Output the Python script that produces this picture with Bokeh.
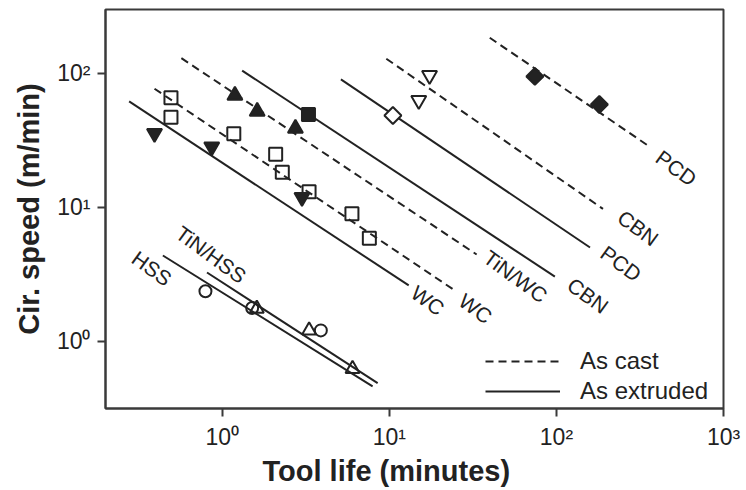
from bokeh.plotting import figure
from bokeh.models import ColumnDataSource, FixedTicker, Legend, LegendItem, Range1d, Title
from bokeh.embed import file_html
from bokeh.resources import INLINE
from bokeh.core.properties import value

# ---------------- data (tool life in minutes, cir. speed in m/min) ----------------
# fitted Taylor lines: start / end points
curve_names = ["WC", "WC", "TiN/WC", "CBN", "PCD", "CBN", "PCD", "HSS", "TiN/HSS"]
curve_state = ["extruded", "cast", "cast", "extruded", "extruded", "cast", "cast", "extruded", "extruded"]
curve_t0 = [0.277, 0.393, 0.569, 1.315, 5.13, 9.59, 39.9, 0.441, 0.81]
curve_t1 = [13.06, 24.2, 33.3, 97.9, 158.9, 190.0, 364.5, 7.94, 8.51]
curve_v0 = [61.8, 76.9, 130.0, 105.0, 90.2, 128.8, 184.7, 4.38, 3.27]
curve_v1 = [2.62, 2.44, 4.46, 3.05, 5.03, 9.75, 28.2, 0.462, 0.489]

# measured points
wc_cast_t = [0.493, 0.493, 1.172, 2.087, 2.287, 3.307, 5.97, 7.59]
wc_cast_v = [65.9, 47.2, 35.5, 24.9, 18.3, 13.1, 8.97, 5.9]
tinwc_cast_t = [1.19, 1.618, 2.74]
tinwc_cast_v = [68.5, 52.0, 38.9]
wc_ext_t = [0.393, 0.865, 3.0]
wc_ext_v = [35.7, 28.3, 11.9]
cbn_ext_t = [3.28]
cbn_ext_v = [49.4]
pcd_ext_t = [10.5]
pcd_ext_v = [48.6]
cbn_cast_t = [15.0, 17.4]
cbn_cast_v = [62.9, 96.7]
pcd_cast_t = [74.3, 180.7]
pcd_cast_v = [95.0, 58.7]
hss_t = [0.793, 1.51, 3.89]
hss_v = [2.37, 1.78, 1.21]
tinhss_t = [1.61, 3.31, 6.02]
tinhss_v = [1.76, 1.21, 0.625]

x_ticks = [1, 10, 100, 1000]
x_tick_labels = ["10\u2070", "10\u00b9", "10\u00b2", "10\u00b3"]
y_ticks = [1, 10, 100]
y_tick_labels = ["10\u2070", "10\u00b9", "10\u00b2"]
legend_labels = ["As cast", "As extruded"]
x_title = "Tool life (minutes)"
y_title = "Cir. speed (m/min)"

# ---------------- styling ----------------
INK = "#222222"
FRAME = "#3a3a3a"
FONT = "Liberation Sans"

p = figure(x_axis_type="log", y_axis_type="log",
           x_range=Range1d(0.2, 1000), y_range=Range1d(10 ** -0.5, 300),
           frame_width=618, frame_height=399,
           min_border_left=105, min_border_right=23, min_border_top=9, min_border_bottom=82,
           output_backend="svg", toolbar_location=None)
p.grid.visible = False
p.outline_line_color = FRAME
p.outline_line_width = 2
p.background_fill_color = "white"
p.border_fill_color = "white"

for ax in (p.xaxis[0], p.yaxis[0]):
    ax.axis_line_color = FRAME
    ax.axis_line_width = 2
    ax.major_tick_line_color = FRAME
    ax.major_tick_line_width = 2
    ax.major_tick_out = 8
    ax.major_tick_in = 0
    ax.minor_tick_out = 0
    ax.minor_tick_in = 0
    ax.minor_tick_line_color = None
    ax.major_label_text_font = FONT
    ax.major_label_text_font_size = "23px"
    ax.major_label_text_color = INK
    ax.major_label_standoff = 7
    ax.axis_label_text_font = FONT
    ax.axis_label_text_font_style = "bold"
    ax.axis_label_text_font_size = "29px"
    ax.axis_label_text_color = INK

p.xaxis.ticker = FixedTicker(ticks=x_ticks)
p.yaxis.ticker = FixedTicker(ticks=y_ticks)
p.xaxis.major_label_overrides = {t: s for t, s in zip(x_ticks, x_tick_labels)}
p.yaxis.major_label_overrides = {t: s for t, s in zip(y_ticks, y_tick_labels)}
p.yaxis.axis_label = y_title
p.yaxis.axis_label_standoff = 9

# x title: slightly left of the frame centre, as in the original
p.add_layout(Title(text=x_title, align="left", offset=157, standoff=0,
                   text_font=FONT, text_font_style="bold", text_font_size="29px",
                   text_color=INK), "below")

# ---------------- lines ----------------
def line_src(state):
    idx = [i for i, s in enumerate(curve_state) if s == state]
    return ColumnDataSource(dict(
        xs=[[curve_t0[i], curve_t1[i]] for i in idx],
        ys=[[curve_v0[i], curve_v1[i]] for i in idx]))

dashed = p.multi_line(xs="xs", ys="ys", source=line_src("cast"),
                      line_color=INK, line_width=2, line_dash="8 5")
solid = p.multi_line(xs="xs", ys="ys", source=line_src("extruded"),
                     line_color=INK, line_width=2)

# ---------------- markers ----------------
LW = 2
p.scatter(wc_cast_t, wc_cast_v, marker="square", size=13, line_color=INK, line_width=LW, fill_color=None)
p.scatter(tinwc_cast_t, tinwc_cast_v, marker="triangle", size=15, line_color=INK, line_width=LW, fill_color=INK)
p.scatter(wc_ext_t, wc_ext_v, marker="inverted_triangle", size=15, line_color=INK, line_width=LW, fill_color=INK)
p.scatter(cbn_ext_t, cbn_ext_v, marker="square", size=13, line_color=INK, line_width=LW, fill_color=INK)
p.scatter(pcd_ext_t, pcd_ext_v, marker="square", angle=0.785398, size=12, line_color=INK, line_width=LW, fill_color="white")
p.scatter(cbn_cast_t, cbn_cast_v, marker="inverted_triangle", size=15, line_color=INK, line_width=LW, fill_color=None)
p.scatter(pcd_cast_t, pcd_cast_v, marker="square", angle=0.785398, size=12, line_color=INK, line_width=LW, fill_color=INK)
p.scatter(hss_t, hss_v, marker="circle", size=12, line_color=INK, line_width=LW, fill_color=None)
p.scatter(tinhss_t, tinhss_v, marker="triangle", size=14, line_color=INK, line_width=LW, fill_color=None)

# ---------------- curve labels (anchored to line ends, pixel offsets) ----------------
label_anchor = ["end", "end", "end", "end", "end", "end", "end", "start", "start"]
label_dx = [19, 22, 39, 33, 31, 35, 26, -11, 4]
label_dy = [15, 19, 22, 19, 16, 19, 21, 13, -18]
lx, ly = [], []
for i, a in enumerate(label_anchor):
    if a == "end":
        lx.append(curve_t1[i]); ly.append(curve_v1[i])
    else:
        lx.append(curve_t0[i]); ly.append(curve_v0[i])
lab_src = ColumnDataSource(dict(x=lx, y=ly, text=curve_names, xo=label_dx, yo=label_dy))
p.text(x="x", y="y", text="text", x_offset="xo", y_offset="yo", source=lab_src,
       angle=-0.63, text_align="center", text_baseline="middle",
       text_font=value(FONT), text_font_size="21px", text_color=INK)

# ---------------- legend ----------------
legend = Legend(items=[LegendItem(label=legend_labels[0], renderers=[dashed]),
                       LegendItem(label=legend_labels[1], renderers=[solid])],
                location=(380, 2), orientation="vertical",
                glyph_width=75, glyph_height=30, label_height=30, label_standoff=20,
                spacing=0, padding=0, margin=0,
                border_line_color=None, background_fill_alpha=0,
                label_text_font=FONT, label_text_font_size="24px", label_text_color=INK)
p.add_layout(legend)

open("out.html", "w").write(file_html(p, INLINE))
